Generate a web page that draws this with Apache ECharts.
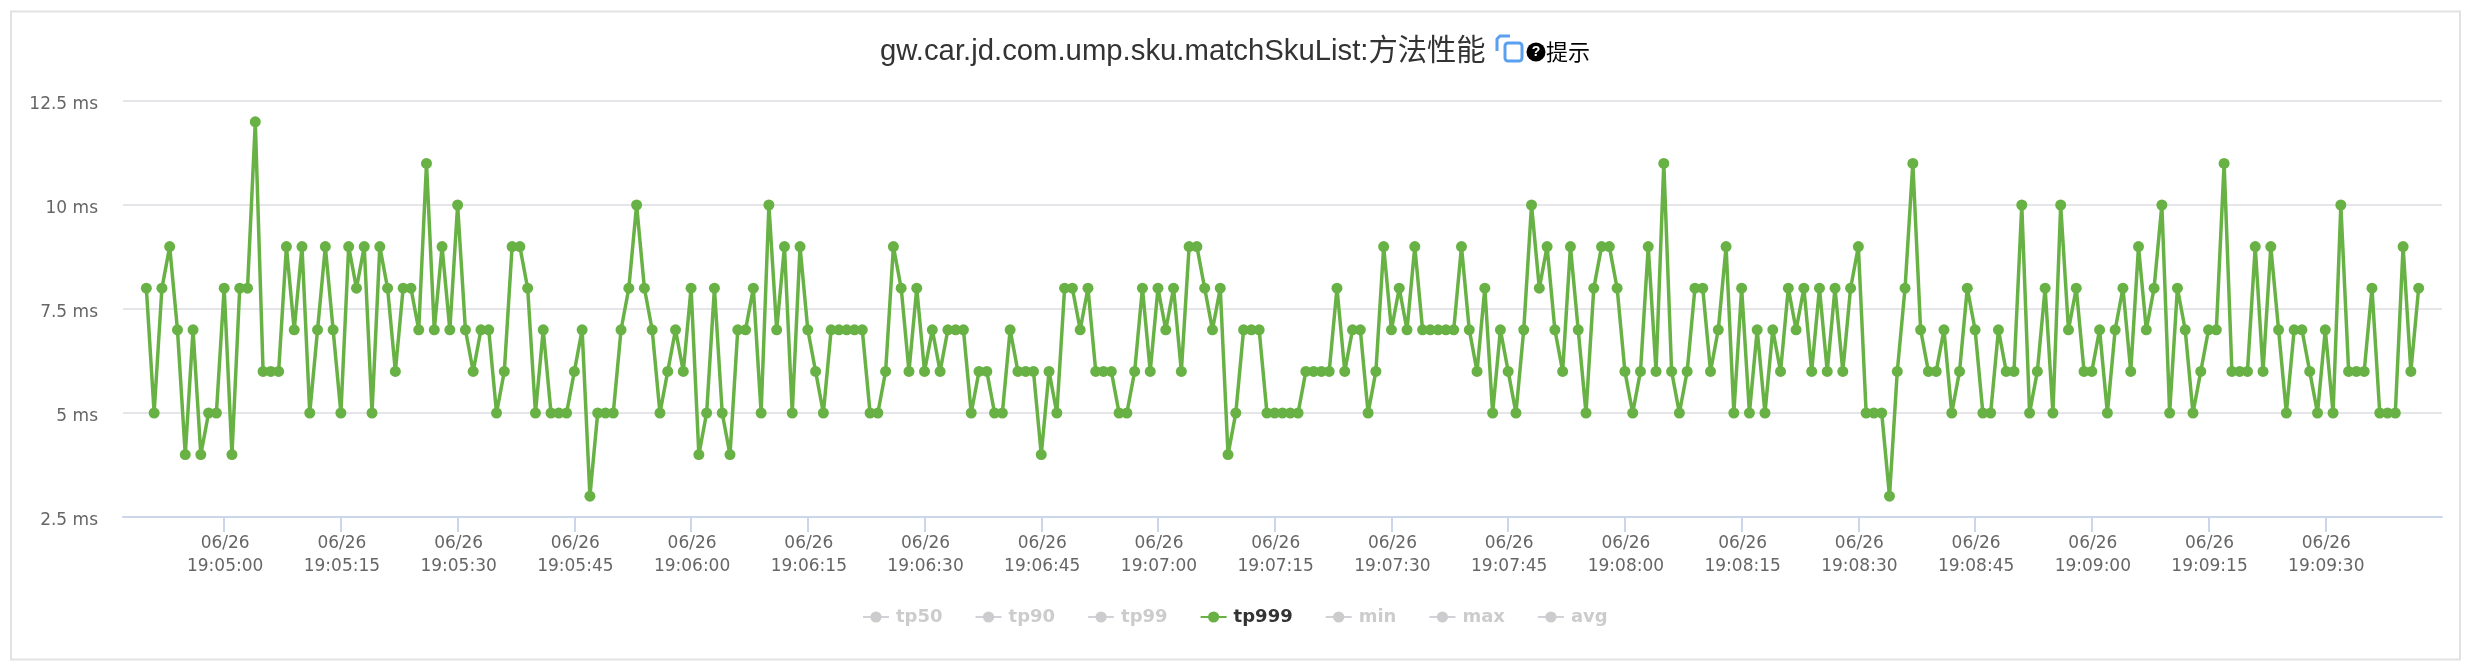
<!DOCTYPE html>
<html lang="en">

<head>
    <meta charset="UTF-8">
    <script src="https://cdn.jsdelivr.net/npm/echarts@6/dist/echarts.min.js"></script>
    <title>方法性能</title>
    <style>
        html,
        body {
            height: 100%;
            background: #fff;
        }

        * {
            padding: 0;
            margin: 0;
        }
    </style>
</head>

<body>
    <div id="graph" style="width: 100%;height: 100%;"></div>
    <script>
        var seriesNames = ["tp50", "tp90", "tp99", "tp999", "min", "max", "avg"];
        var startTime = "2024-06-26T19:04:50";
        var axisMin = "2024-06-26T19:04:47";
        var axisMax = "2024-06-26T19:09:45";
        var tickTimes = [
            "19:05:00", "19:05:15", "19:05:30", "19:05:45",
            "19:06:00", "19:06:15", "19:06:30", "19:06:45",
            "19:07:00", "19:07:15", "19:07:30", "19:07:45",
            "19:08:00", "19:08:15", "19:08:30", "19:08:45",
            "19:09:00", "19:09:15", "19:09:30"
        ];
        // one point per second
        var tp999 = [
            8, 5, 8, 9, 7, 4, 7, 4, 5, 5, 8, 4, 8, 8, 12, 6, 6, 6, 9, 7,
            9, 5, 7, 9, 7, 5, 9, 8, 9, 5, 9, 8, 6, 8, 8, 7, 11, 7, 9, 7,
            10, 7, 6, 7, 7, 5, 6, 9, 9, 8, 5, 7, 5, 5, 5, 6, 7, 3, 5, 5,
            5, 7, 8, 10, 8, 7, 5, 6, 7, 6, 8, 4, 5, 8, 5, 4, 7, 7, 8, 5,
            10, 7, 9, 5, 9, 7, 6, 5, 7, 7, 7, 7, 7, 5, 5, 6, 9, 8, 6, 8,
            6, 7, 6, 7, 7, 7, 5, 6, 6, 5, 5, 7, 6, 6, 6, 4, 6, 5, 8, 8,
            7, 8, 6, 6, 6, 5, 5, 6, 8, 6, 8, 7, 8, 6, 9, 9, 8, 7, 8, 4,
            5, 7, 7, 7, 5, 5, 5, 5, 5, 6, 6, 6, 6, 8, 6, 7, 7, 5, 6, 9,
            7, 8, 7, 9, 7, 7, 7, 7, 7, 9, 7, 6, 8, 5, 7, 6, 5, 7, 10, 8,
            9, 7, 6, 9, 7, 5, 8, 9, 9, 8, 6, 5, 6, 9, 6, 11, 6, 5, 6, 8,
            8, 6, 7, 9, 5, 8, 5, 7, 5, 7, 6, 8, 7, 8, 6, 8, 6, 8, 6, 8,
            9, 5, 5, 5, 3, 6, 8, 11, 7, 6, 6, 7, 5, 6, 8, 7, 5, 5, 7, 6,
            6, 10, 5, 6, 8, 5, 10, 7, 8, 6, 6, 7, 5, 7, 8, 6, 9, 7, 8, 10,
            5, 8, 7, 5, 6, 7, 7, 11, 6, 6, 6, 9, 6, 9, 7, 5, 7, 7, 6, 5,
            7, 5, 10, 6, 6, 6, 8, 5, 5, 5, 9, 6, 8
        ];

        var lineColor = "#68b245";
        var axisColor = "#ccd6eb";
        var gridColor = "#e6e6ea";
        var labelFont = "DejaVu Sans";

        var dayPart = startTime.split("T")[0];
        var tickValues = tickTimes.map(function (t) {
            return new Date(dayPart + "T" + t).getTime();
        });
        var t0 = new Date(startTime).getTime();
        var points = tp999.map(function (v, i) {
            return [t0 + i * 1000, v];
        });

        var series = seriesNames.map(function (name) {
            return {
                name: name,
                type: "line",
                data: name === "tp999" ? points : [],
                symbol: "circle",
                symbolSize: 11,
                showAllSymbol: true,
                animation: false,
                itemStyle: { color: lineColor },
                lineStyle: { color: lineColor, width: 3.5 }
            };
        });

        var legendSelected = {};
        seriesNames.forEach(function (name) {
            legendSelected[name] = name === "tp999";
        });

        var myChart = echarts.init(document.getElementById("graph"));
        var option = {
            backgroundColor: "#ffffff",
            animation: false,
            title: {
                text: "gw.car.jd.com.ump.sku.matchSkuList:方法性能",
                left: 880,
                top: 37,
                padding: 0,
                textStyle: {
                    color: "#333333",
                    fontWeight: "normal",
                    fontSize: 29.3,
                    fontFamily: "'Liberation Sans', 'Noto Sans CJK SC', sans-serif"
                }
            },
            legend: {
                left: 862,
                top: 608,
                padding: 0,
                data: seriesNames,
                selected: legendSelected,
                itemWidth: 26,
                itemHeight: 14,
                itemGap: 32,
                inactiveColor: "#cccccc",
                textStyle: {
                    color: "#333333",
                    fontFamily: labelFont,
                    fontSize: 18,
                    fontWeight: "bold",
                    padding: [0, 0, 0, 2]
                }
            },
            grid: {
                left: 123,
                right: 26,
                top: 101,
                bottom: 151
            },
            xAxis: {
                type: "value",
                scale: true,
                min: new Date(axisMin).getTime(),
                max: new Date(axisMax).getTime(),
                axisLine: { lineStyle: { color: axisColor, width: 2 } },
                axisTick: {
                    customValues: tickValues,
                    length: 15,
                    lineStyle: { color: axisColor, width: 2 }
                },
                axisLabel: {
                    customValues: tickValues,
                    margin: 15,
                    padding: [0, 0, 0, 2],
                    color: "#666666",
                    fontFamily: labelFont,
                    fontSize: 17,
                    lineHeight: 23,
                    formatter: function (value) {
                        return echarts.time.format(value, "{MM}/{dd}\n{HH}:{mm}:{ss}", false);
                    }
                },
                splitLine: { show: false }
            },
            yAxis: {
                type: "value",
                min: 2.5,
                max: 12.5,
                interval: 2.5,
                axisLine: { show: false },
                axisTick: { show: false },
                axisLabel: {
                    margin: 25,
                    color: "#666666",
                    fontFamily: labelFont,
                    fontSize: 17,
                    verticalAlign: "top",
                    lineHeight: 7,
                    formatter: "{value} ms"
                },
                splitLine: { lineStyle: { color: gridColor, width: 2 } }
            },
            series: series,
            graphic: [
                {
                    type: "rect",
                    silent: true,
                    z: -1,
                    shape: { x: 11, y: 11.5, width: 2449, height: 648 },
                    style: { fill: "none", stroke: "#e2e2e2", lineWidth: 2 }
                },
                // copy icon next to the title
                {
                    type: "polyline",
                    silent: true,
                    shape: { points: [[1510, 36], [1500, 36], [1497, 39], [1497, 51]] },
                    style: { fill: "none", stroke: "#5b9ff0", lineWidth: 3 }
                },
                {
                    type: "rect",
                    silent: true,
                    shape: { x: 1505, y: 43, width: 17, height: 18, r: 3 },
                    style: { fill: "none", stroke: "#5b9ff0", lineWidth: 3 }
                },
                // help mark and label
                {
                    type: "circle",
                    silent: true,
                    shape: { cx: 1536, cy: 52, r: 9.5 },
                    style: { fill: "#000000" }
                },
                {
                    type: "text",
                    silent: true,
                    x: 1536,
                    y: 52,
                    style: {
                        text: "?",
                        fill: "#ffffff",
                        fontSize: 14,
                        fontWeight: "bold",
                        fontFamily: "'Liberation Sans', sans-serif",
                        align: "center",
                        verticalAlign: "middle"
                    }
                },
                {
                    type: "text",
                    silent: true,
                    x: 1546,
                    y: 52,
                    style: {
                        text: "提示",
                        fill: "#000000",
                        fontSize: 22,
                        fontFamily: "'Noto Sans CJK SC', sans-serif",
                        align: "left",
                        verticalAlign: "middle"
                    }
                }
            ]
        };
        myChart.setOption(option);
    </script>

</body>

</html>
